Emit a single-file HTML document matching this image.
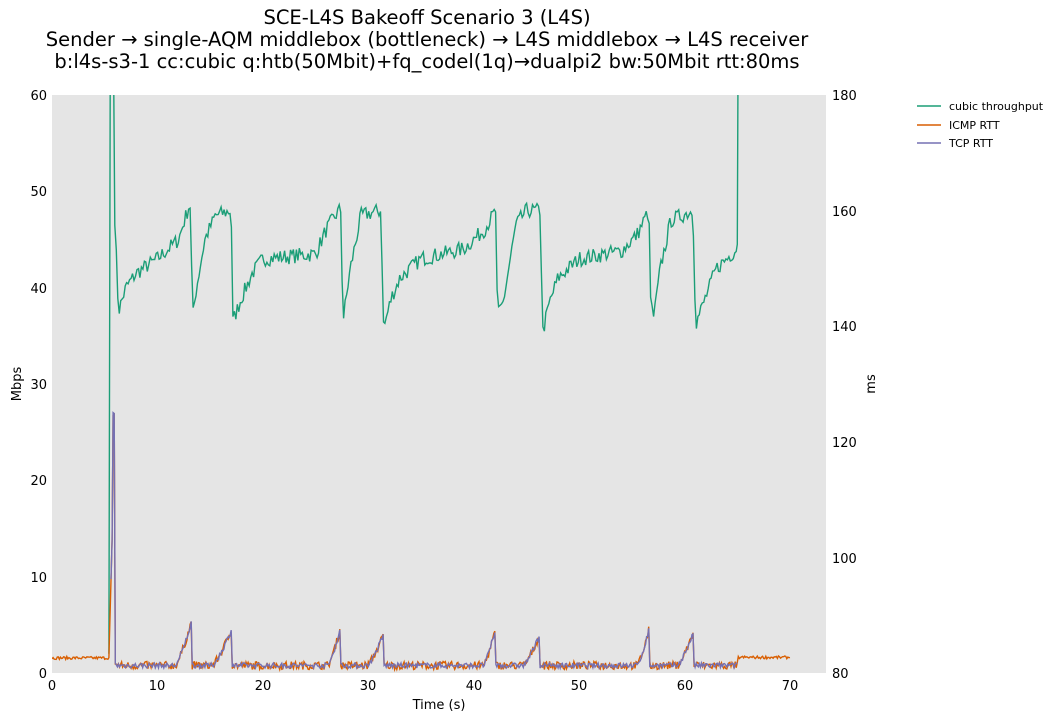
<!DOCTYPE html>
<html><head><meta charset="utf-8"><style>
body{margin:0;background:#fff;width:1063px;height:721px;overflow:hidden}
svg text{font-family:"DejaVu Sans","Liberation Sans",sans-serif}
</style></head><body>
<svg id="s" width="1063" height="721" xmlns="http://www.w3.org/2000/svg">
<rect x="52" y="95" width="774" height="578" fill="#e5e5e5"/>
<g font-size="19.5" text-anchor="middle" fill="#000">
<text x="427" y="24">SCE-L4S Bakeoff Scenario 3 (L4S)</text>
<text x="427" y="46">Sender → single-AQM middlebox (bottleneck) → L4S middlebox → L4S receiver</text>
<text x="427" y="68">b:l4s-s3-1 cc:cubic q:htb(50Mbit)+fq_codel(1q)→dualpi2 bw:50Mbit rtt:80ms</text>
</g>
<g font-size="13" fill="#000">
<text x="47" y="678" text-anchor="end">0</text>
<text x="47" y="582" text-anchor="end">10</text>
<text x="47" y="485" text-anchor="end">20</text>
<text x="47" y="389" text-anchor="end">30</text>
<text x="47" y="293" text-anchor="end">40</text>
<text x="47" y="196" text-anchor="end">50</text>
<text x="47" y="100" text-anchor="end">60</text>
<text x="832" y="678">80</text>
<text x="832" y="563">100</text>
<text x="832" y="447">120</text>
<text x="832" y="331">140</text>
<text x="832" y="216">160</text>
<text x="832" y="100">180</text>
<g text-anchor="middle">
<text x="52" y="690">0</text><text x="157" y="690">10</text><text x="263" y="690">20</text>
<text x="368" y="690">30</text><text x="474" y="690">40</text><text x="579" y="690">50</text>
<text x="685" y="690">60</text><text x="790" y="690">70</text>
<text x="439" y="709">Time (s)</text>
</g>
<text transform="translate(21,384) rotate(-90)" text-anchor="middle">Mbps</text>
<text transform="translate(875,384) rotate(-90)" text-anchor="middle">ms</text>
</g>
<g font-size="11">
<line x1="917" y1="106" x2="941" y2="106" stroke="#1b9e77" stroke-width="1.5"/><text x="949" y="110">cubic throughput</text>
<line x1="917" y1="125" x2="941" y2="125" stroke="#d95f02" stroke-width="1.5"/><text x="949" y="129">ICMP RTT</text>
<line x1="917" y1="143" x2="941" y2="143" stroke="#7570b3" stroke-width="1.5"/><text x="949" y="147">TCP RTT</text>
</g>
<defs><clipPath id="c"><rect x="52" y="95" width="774" height="578"/></clipPath></defs>
<g clip-path="url(#c)" fill="none" stroke-width="1.4" id="g"></g>
</svg>
<script>
var seed=7;function r(){seed=(seed*16807)%2147483647;return seed/2147483647-0.5;}
function X(t){return 52+t*10.543}function Y(m){return 673-m*9.633}function YR(ms){return 673-(ms-80)*5.78}
function interp(k,t){for(var i=0;i<k.length-1;i++){if(t>=k[i][0]&&t<=k[i+1][0]){var a=k[i],b=k[i+1];return a[1]+(b[1]-a[1])*(t-a[0])/(b[0]-a[0]);}}return k[k.length-1][1];}
var tk=[[5.4,2],[5.5,70],[5.8,70],[5.9,49],[6.3,37.5],[7,40],[8,41.5],[10,43],[12,45],[13,48.5],[13.1,48.5],[13.35,37],[13.7,40],[14.5,45],[15.5,47.5],[17,48],[17.15,36.5],[18,39],[19,41.5],[20,43],[25,43.5],[26,46],[27.2,48],[27.4,48],[27.6,36.5],[28.3,42],[29.3,47.5],[31.2,48],[31.45,35.7],[32.2,39],[33,41],[35,43],[39,44],[41,46],[42.1,48],[42.25,37],[42.8,38.5],[44,46.5],[45,48],[46.3,48],[46.55,35.4],[47.2,38.5],[48,41],[50,43],[54,43.8],[55.5,45.5],[56.6,48],[56.8,38],[57.1,37],[57.7,42],[58.7,47],[60.8,48],[61.05,36.2],[62,39],[63,42],[64,43],[64.9,44],[65,44.5],[65.1,70]];
var d="";for(var t=5.4;t<=64.95;t+=0.14){var v=interp(tk,t);if(v<60&&v>30)v+=r()*1.6;d+=(d?"L":"M")+X(t).toFixed(1)+","+Y(v).toFixed(1);}
d+="L"+X(65).toFixed(1)+","+Y(44.5).toFixed(1)+"L"+X(65.1).toFixed(1)+","+Y(70).toFixed(1);
var peaks=[[13.2,88.7,1.5],[17.0,87.4,1.8],[27.35,87.7,1.2],[31.5,86.9,1.6],[42.1,87.8,1.2],[46.3,86.8,1.6],[56.7,88.1,1.2],[60.9,87.3,1.6]];
function rtt(t){if(t<5.4)return 82.6;if(t<5.7)return 82.6+(t-5.4)/0.3*20;if(t<5.95)return 125;if(t<6.1)return 81.5;if(t>65.1)return 82.7;var b=81.3;for(var i=0;i<peaks.length;i++){var p=peaks[i];if(t<=p[0]&&t>p[0]-p[2]){b=81.3+(p[1]-81.3)*Math.pow((t-(p[0]-p[2]))/p[2],1.3);}}return b;}
var di="",dt="";
for(var t=0;t<=70.01;t+=0.1){var v=rtt(t);var n=(t<5.4||t>65.1)?r()*0.5:r()*1.4;di+=(di?"L":"M")+X(t).toFixed(1)+","+YR(v+n).toFixed(1);
if(t>=5.5&&t<=65.1){var n2=r()*0.9;dt+=(dt?"L":"M")+X(t).toFixed(1)+","+YR(rtt(t)+n2).toFixed(1);}}
document.getElementById("g").innerHTML='<path d="'+d+'" stroke="#1b9e77"/><path d="'+di+'" stroke="#d95f02"/><path d="'+dt+'" stroke="#7570b3"/>';
</script>
</body></html>
